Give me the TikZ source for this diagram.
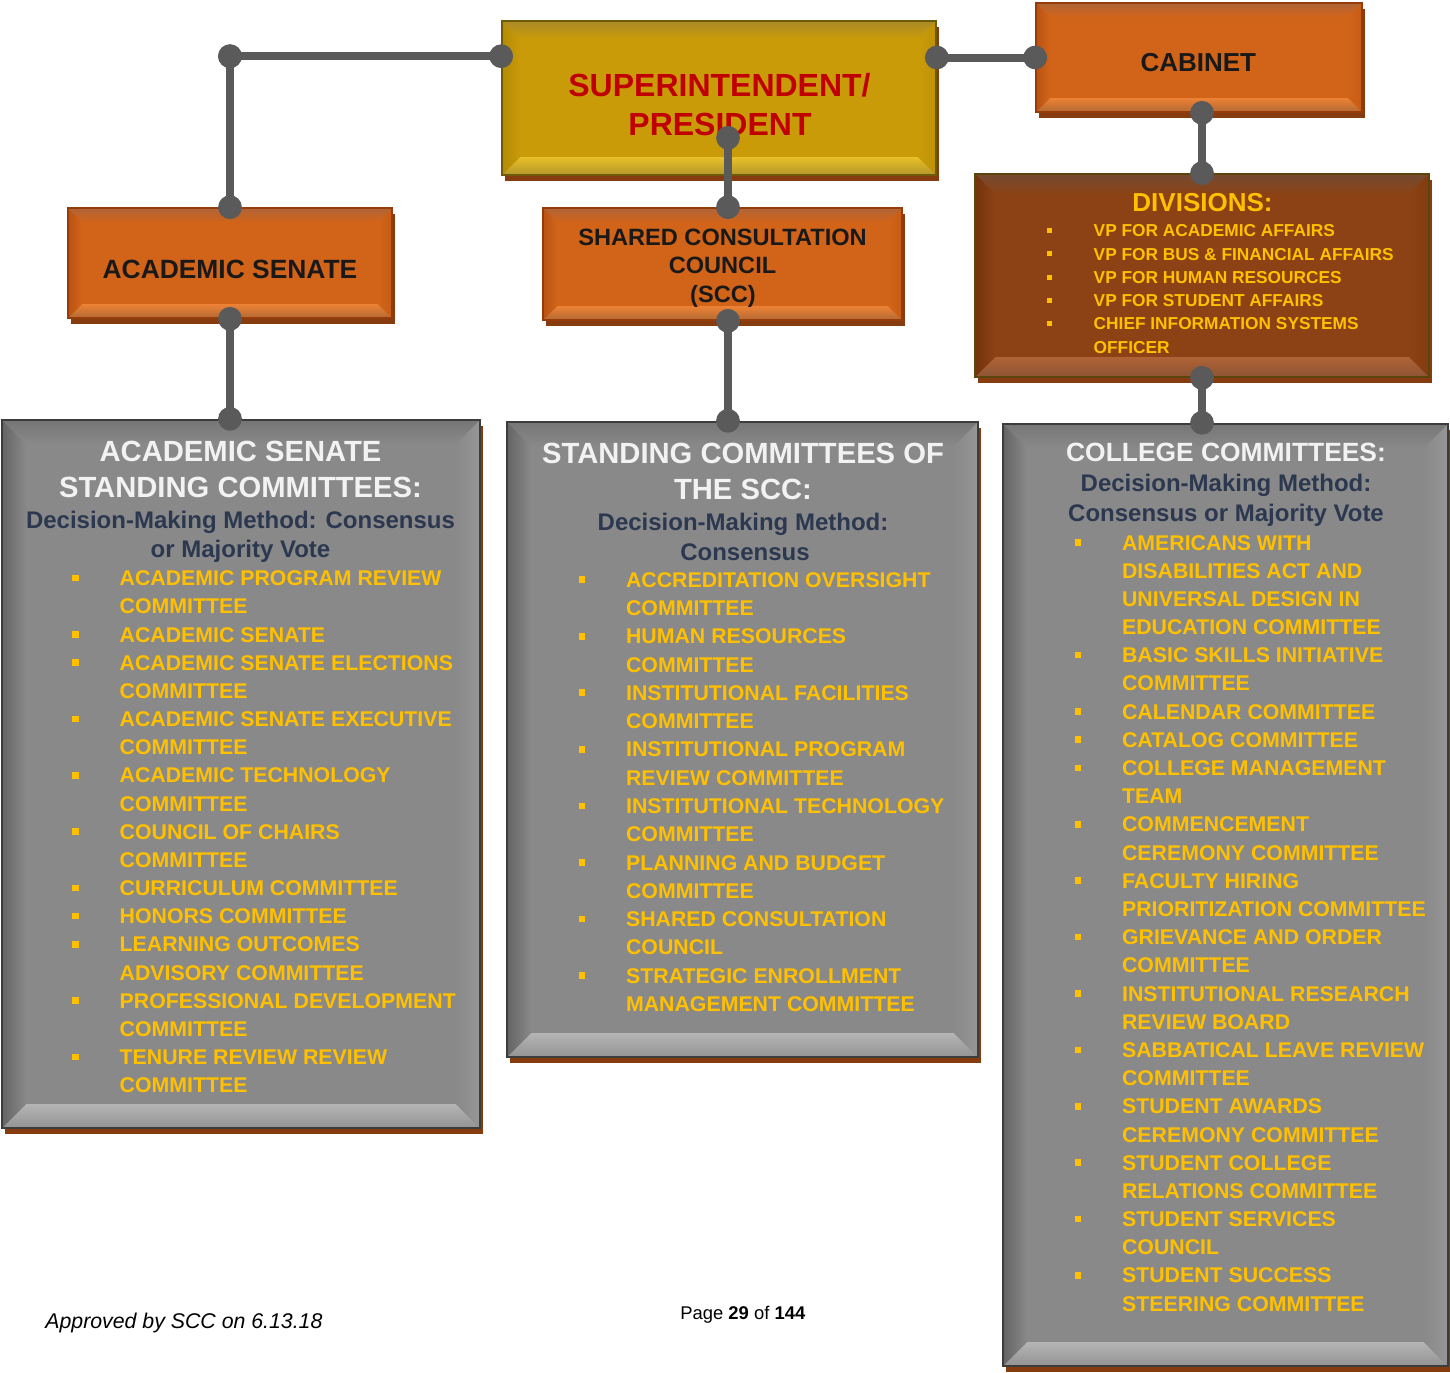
\documentclass[tikz,border=0pt]{standalone}
\usepackage{fontspec}
\setmainfont{Liberation Sans}
\usetikzlibrary{calc,shadows,arrows.meta}

\definecolor{orM}{RGB}{210,100,26}
\definecolor{orT}{RGB}{175,100,55}
\definecolor{orB}{RGB}{255,150,72}
\definecolor{orL}{RGB}{185,82,18}
\definecolor{orR}{RGB}{200,92,22}
\definecolor{orD}{RGB}{150,60,10}
\definecolor{gdM}{RGB}{201,155,8}
\definecolor{gdT}{RGB}{170,138,40}
\definecolor{gdB}{RGB}{255,216,60}
\definecolor{gdL}{RGB}{180,138,8}
\definecolor{gdR}{RGB}{190,146,8}
\definecolor{gdD}{RGB}{110,90,10}
\definecolor{brM}{RGB}{140,66,20}
\definecolor{brT}{RGB}{115,75,50}
\definecolor{brB}{RGB}{200,120,75}
\definecolor{brL}{RGB}{115,50,12}
\definecolor{brR}{RGB}{130,60,16}
\definecolor{brD}{RGB}{90,70,10}
\definecolor{gyM}{RGB}{137,137,137}
\definecolor{gyT}{RGB}{118,118,118}
\definecolor{gyB}{RGB}{210,210,210}
\definecolor{gyL}{RGB}{100,100,100}
\definecolor{gyR}{RGB}{150,150,150}
\definecolor{gyD}{RGB}{60,60,60}
\definecolor{shadowbr}{RGB}{135,60,15}
\definecolor{connc}{RGB}{90,90,90}
\definecolor{itemyel}{HTML}{FFC000}
\definecolor{subnavy}{RGB}{44,56,80}
\definecolor{headw}{RGB}{242,242,242}
\definecolor{redtxt}{HTML}{C00000}
\definecolor{txtblack}{RGB}{25,25,25}

\tikzset{
  bvin/.store in=\bvin, bvin=7pt,
  bvcols/.code n args={5}{\colorlet{bvM}{#1}\colorlet{bvT}{#2}\colorlet{bvB}{#3}\colorlet{bvL}{#4}\colorlet{bvR}{#5}},
  bevelbox/.style={rectangle, inner sep=0pt, fill=bvM,
    path picture={
      \coordinate (P1) at (path picture bounding box.north west);
      \coordinate (P2) at (path picture bounding box.north east);
      \coordinate (P3) at (path picture bounding box.south east);
      \coordinate (P4) at (path picture bounding box.south west);
      \coordinate (Q1) at ($(P1)+(\bvin,-\bvin)$);
      \coordinate (Q2) at ($(P2)+(-\bvin,-\bvin)$);
      \coordinate (Q3) at ($(P3)+(-\bvin,\bvin)$);
      \coordinate (Q4) at ($(P4)+(\bvin,\bvin)$);
      \shade[top color=bvT, bottom color=bvM] (P1)--(P2)--(Q2)--(Q1)--cycle;
      \shade[top color=bvM!40!bvB, middle color=bvB, bottom color=bvB!70!black] (Q4)--(Q3)--(P3)--(P4)--cycle;
      \shade[left color=bvL, right color=bvM] (P1)--(Q1)--(Q4)--(P4)--cycle;
      \shade[left color=bvM, right color=bvR] (P2)--(Q2)--(Q3)--(P3)--cycle;
    }},
  boxshadow/.style={drop shadow={shadow xshift=1.3pt, shadow yshift=-3.2pt, fill=shadowbr, opacity=1}},
  orbox/.style={bvcols={orM}{orT}{orB}{orL}{orR}, bevelbox, bvin=7pt, draw=orD, line width=0.8pt, boxshadow},
  gdbox/.style={bvcols={gdM}{gdT}{gdB}{gdL}{gdR}, bevelbox, bvin=9pt, draw=gdD, line width=0.8pt, boxshadow},
  brbox/.style={bvcols={brM}{brT}{brB}{brL}{brR}, bevelbox, bvin=10pt, draw=brD, line width=0.8pt, boxshadow},
  gybox/.style={bvcols={gyM}{gyT}{gyB}{gyL}{gyR}, bevelbox, bvin=12pt, draw=gyD, line width=1.2pt, boxshadow},
  tx/.style={inner sep=0pt, anchor=base},
  boxtx/.style={tx, text=txtblack, font=\fontsize{13.2}{15}\selectfont\bfseries},
  hd/.style={tx, text=headw, font=\fontsize{14.6}{17}\selectfont\bfseries},
  sub/.style={tx, text=subnavy, font=\fontsize{12}{14}\selectfont\bfseries},
  item/.style={inner sep=0pt, anchor=base west, text=itemyel, font=\fontsize{10.65}{12}\selectfont\bfseries},
  ditem/.style={inner sep=0pt, anchor=base west, text=itemyel, font=\fontsize{8.65}{10}\selectfont\bfseries},
  bul/.style={rectangle, fill=itemyel, inner sep=0pt, minimum size=3.3pt},
  dbul/.style={rectangle, fill=itemyel, inner sep=0pt, minimum size=2.6pt},
  link/.style={draw=connc, line width=4pt, {Circle[length=11.8pt]}-{Circle[length=11.8pt]}, shorten <=-5.9pt, shorten >=-5.9pt},
}

\begin{document}
\begin{tikzpicture}[x=0.5pt, y=-0.5pt]
\useasboundingbox (0,0) rectangle (1450,1372);

% ---------- boxes ----------
\node[orbox, minimum width=162pt, minimum height=55pt] (as) at (230,263) {};
\node[gdbox, minimum width=217pt, minimum height=77pt] (sp) at (719,98) {};
\node[orbox, minimum width=179.5pt, minimum height=56pt] (scc) at (722.5,264) {};
\node[orbox, minimum width=163pt, minimum height=54.5pt] (cab) at (1199,57.5) {};
\node[brbox, minimum width=227pt, minimum height=101.5pt] (div) at (1202,275.5) {};
\node[gybox, minimum width=239pt, minimum height=354pt] (gl) at (241,774) {};
\node[gybox, minimum width=235.5pt, minimum height=317.5pt] (gm) at (742.5,739.5) {};
\node[gybox, minimum width=222.5pt, minimum height=471pt] (gr) at (1225.5,895) {};

% ---------- box texts ----------
\node[boxtx] (as-t) at (230,278.3) {ACADEMIC SENATE};
\node[tx, text=redtxt, font=\fontsize{16}{19}\selectfont\bfseries] (sp-t1) at (719.5,96) {SUPERINTENDENT/};
\node[tx, text=redtxt, font=\fontsize{16}{19}\selectfont\bfseries] (sp-t2) at (720,135) {PRESIDENT};
\node[boxtx, font=\fontsize{11.8}{14}\selectfont\bfseries] (scc-t1) at (722.5,245) {SHARED CONSULTATION};
\node[boxtx, font=\fontsize{11.8}{14}\selectfont\bfseries] (scc-t2) at (722.5,273.3) {COUNCIL};
\node[boxtx, font=\fontsize{11.8}{14}\selectfont\bfseries] (scc-t3) at (723,302) {(SCC)};
\node[boxtx, font=\fontsize{13}{15}\selectfont\bfseries] (cab-t) at (1198.3,71.7) {CABINET};
\node[tx, text=itemyel, font=\fontsize{13}{15}\selectfont\bfseries] (div-h) at (1202.5,211.7) {DIVISIONS:};
\foreach \t [count=\i] in {VP FOR ACADEMIC AFFAIRS, VP FOR BUS \& FINANCIAL AFFAIRS, VP FOR HUMAN RESOURCES, VP FOR STUDENT AFFAIRS, CHIEF INFORMATION SYSTEMS, OFFICER}
  \node[ditem] (div-\i) at (1093.3,{236.7+23.3*(\i-1)}) {\t};
\foreach \i in {1,...,5}
  \node[dbul] (divb-\i) at ($(div-\i.base west)+(-22.1pt,3.1pt)$) {};

% ---------- left gray box ----------
\node[hd] (gl-h1) at (240.5,461.7) {ACADEMIC SENATE};
\node[hd] (gl-h2) at (240.5,497.3) {STANDING COMMITTEES:};
\node[sub] (gl-s1) at (240.5,528.3) {Decision-Making Method: Consensus};
\node[sub] (gl-s2) at (240.5,557.7) {or Majority Vote};
\foreach \t [count=\i] in {ACADEMIC PROGRAM REVIEW, COMMITTEE, ACADEMIC SENATE, ACADEMIC SENATE ELECTIONS, COMMITTEE, ACADEMIC SENATE EXECUTIVE, COMMITTEE, ACADEMIC TECHNOLOGY, COMMITTEE, COUNCIL OF CHAIRS, COMMITTEE, CURRICULUM COMMITTEE, HONORS COMMITTEE, LEARNING OUTCOMES, ADVISORY COMMITTEE, PROFESSIONAL DEVELOPMENT, COMMITTEE, TENURE REVIEW REVIEW, COMMITTEE}
  \node[item] (gl-\i) at (119.3,{585.7+28.17*(\i-1)}) {\t};
\foreach \i in {1,3,4,6,8,10,12,13,14,16,18}
  \node[bul] (glb-\i) at ($(gl-\i.base west)+(-21.8pt,3.8pt)$) {};

% ---------- middle gray box ----------
\node[hd] (gm-h1) at (743,463.3) {STANDING COMMITTEES OF};
\node[hd] (gm-h2) at (743,499.3) {THE SCC:};
\node[sub] (gm-s1) at (743,530) {Decision-Making Method:};
\node[sub] (gm-s2) at (745,560) {Consensus};
\foreach \t [count=\i] in {ACCREDITATION OVERSIGHT, COMMITTEE, HUMAN RESOURCES, COMMITTEE, INSTITUTIONAL FACILITIES, COMMITTEE, INSTITUTIONAL PROGRAM, REVIEW COMMITTEE, INSTITUTIONAL TECHNOLOGY, COMMITTEE, PLANNING AND BUDGET, COMMITTEE, SHARED CONSULTATION, COUNCIL, STRATEGIC ENROLLMENT, MANAGEMENT COMMITTEE}
  \node[item] (gm-\i) at (625.7,{587.3+28.27*(\i-1)}) {\t};
\foreach \i in {1,3,...,15}
  \node[bul] (gmb-\i) at ($(gm-\i.base west)+(-21.8pt,3.8pt)$) {};

% ---------- right gray box ----------
\node[hd, font=\fontsize{13.2}{15}\selectfont\bfseries] (gr-h1) at (1226,461.7) {COLLEGE COMMITTEES:};
\node[sub] (gr-s1) at (1226,491.7) {Decision-Making Method:};
\node[sub] (gr-s2) at (1226,521.7) {Consensus or Majority Vote};
\foreach \t [count=\i] in {AMERICANS WITH, DISABILITIES ACT AND, UNIVERSAL DESIGN IN, EDUCATION COMMITTEE, BASIC SKILLS INITIATIVE, COMMITTEE, CALENDAR COMMITTEE, CATALOG COMMITTEE, COLLEGE MANAGEMENT, TEAM, COMMENCEMENT, CEREMONY COMMITTEE, FACULTY HIRING, PRIORITIZATION COMMITTEE, GRIEVANCE AND ORDER, COMMITTEE, INSTITUTIONAL RESEARCH, REVIEW BOARD, SABBATICAL LEAVE REVIEW, COMMITTEE, STUDENT AWARDS, CEREMONY COMMITTEE, STUDENT COLLEGE, RELATIONS COMMITTEE, STUDENT SERVICES, COUNCIL, STUDENT SUCCESS, STEERING COMMITTEE}
  \node[item] (gr-\i) at (1121.7,{550+28.19*(\i-1)}) {\t};
\foreach \i in {1,5,7,8,9,11,13,15,17,19,21,23,25,27}
  \node[bul] (grb-\i) at ($(gr-\i.base west)+(-21.8pt,3.8pt)$) {};

% ---------- footer ----------
\node[tx, anchor=base west, font=\fontsize{10.65}{12}\selectfont\itshape] (foot-a) at (45,1328) {Approved by SCC on 6.13.18};
\node[tx, anchor=base west, font=\fontsize{9.2}{11}\selectfont] (foot-p) at (680,1319.6) {Page \textbf{29} of \textbf{144}};

% ---------- connectors ----------
\coordinate (spL) at ($(sp.north west)+(0,-18pt)$);
\coordinate (cornerL) at (as.north |- spL);
\coordinate (spD) at ($(sp.south)+(4.5pt,19pt)$);
\draw[link] (as.north) -- (cornerL);
\draw[link] (cornerL) -- (spL);
\draw[link] (sp.east |- cab.west) -- (cab.west);
\draw[link] (spD) -- (spD |- scc.north);
\draw[link] (spD |- scc.south) -- (spD |- gm.north);
\draw[link] (as.south) -- (as.south |- gl.north);
\draw[link] (div.north |- cab.south) -- (div.north);
\draw[link] (div.south) -- (div.south |- gr.north);
\end{tikzpicture}
\end{document}
